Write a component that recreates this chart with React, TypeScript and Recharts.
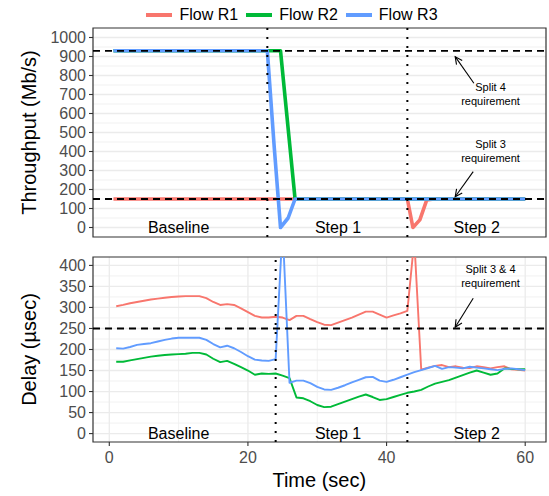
import React from 'react';
import {
  LineChart,
  Line,
  XAxis,
  YAxis,
  CartesianGrid,
  ReferenceLine,
  ReferenceArea,
  ReferenceDot,
} from 'recharts';

// ---------- data ----------
const seriesNames = ['Flow R1', 'Flow R2', 'Flow R3'];
const seriesColors = ['#F8766D', '#00BA38', '#619CFF'];

// Throughput (Mb/s) — breakpoints
const thrTimeR1 = [0.6, 43.0, 43.8, 44.8, 45.8, 46.8, 60];
const thrR1 = [150, 150, 0, 40, 145, 150, 150];
const thrTimeR2 = [0.6, 24.7, 26.8, 60];
const thrR2 = [930, 930, 150, 150];
const thrTimeR3 = [0.6, 22.8, 23.8, 24.7, 25.8, 26.8, 60];
const thrR3 = [930, 930, 420, 0, 50, 150, 150];

// Delay (µsec), one sample per second
const delayTime = [
  1, 2, 3, 4, 5, 6, 7, 8, 9, 10, 11, 12, 13, 14, 15, 16, 17, 18, 19, 20,
  21, 22, 23, 24, 25, 26, 27, 28, 29, 30, 31, 32, 33, 34, 35, 36, 37, 38, 39, 40,
  41, 42, 43, 44, 45, 46, 47, 48, 49, 50, 51, 52, 53, 54, 55, 56, 57, 58, 59, 60,
];
const delayR1 = [
  303, 306, 310, 313, 316, 319, 321, 323, 325, 326, 327, 327, 327, 322, 313, 306, 308, 306, 298, 289,
  280, 276, 276, 278, 276, 270, 280, 280, 272, 265, 259, 258, 264, 270, 276, 283, 290, 290, 283, 276,
  281, 286, 292, 460, 152, 157, 161, 163, 158, 160, 157, 156, 160, 158, 155, 158, 160, 153, 152, 150,
];
const delayR2 = [
  171, 171, 174, 177, 180, 183, 185, 187, 188, 189, 190, 192, 192, 188, 178, 170, 173, 166, 158, 150,
  140, 143, 142, 143, 138, 132, 86, 84, 77, 68, 63, 64, 70, 76, 82, 88, 93, 87, 80, 82,
  87, 92, 97, 100, 104, 112, 119, 123, 127, 133, 139, 145, 150, 145, 140, 143, 155, 154, 153, 153,
];
const delayR3 = [
  203, 202, 206, 211, 213, 215, 219, 223, 226, 228, 228, 228, 228, 223, 213, 205, 209, 203, 194, 184,
  176, 174, 173, 177, 490, 121, 126, 126, 120, 111, 105, 104, 109, 115, 122, 128, 134, 135, 126, 123,
  128, 134, 140, 146, 151, 156, 161, 154, 158, 157, 155, 159, 157, 155, 153, 151, 154, 155, 153, 151,
];

const xTicks = [0, 20, 40, 60];
const xMinor = [10, 30, 50];
const thrTicks = [0, 100, 200, 300, 400, 500, 600, 700, 800, 900, 1000];
const thrMinor = [50, 150, 250, 350, 450, 550, 650, 750, 850, 950];
const delayTicks = [0, 50, 100, 150, 200, 250, 300, 350, 400];
const delayMinor = [25, 75, 125, 175, 225, 275, 325, 375];

const xDomain = [-2.35, 63];
const thrDomain = [-50, 1050];
const delayDomain = [-20, 420];

const thrRequirements = [930, 150];
const delayRequirement = 250;
const thrPhaseLines = [22.8, 43];
const delayPhaseLines = [24, 43];
const phaseLabels = ['Baseline', 'Step 1', 'Step 2'];
const phaseLabelTimes = [10, 33, 53];

// ---------- helpers ----------
const FONT = '"Liberation Sans", Arial, Helvetica, sans-serif';

const toPoints = (ts: number[], vs: number[]) => ts.map((t, i) => ({ t, v: vs[i] }));

const thrData = [toPoints(thrTimeR1, thrR1), toPoints(thrTimeR2, thrR2), toPoints(thrTimeR3, thrR3)];
const delayData = [
  toPoints(delayTime, delayR1),
  toPoints(delayTime, delayR2),
  toPoints(delayTime, delayR3),
];

const arrowShape = (props: any) => {
  const { x1, y1, x2, y2 } = props;
  if ([x1, y1, x2, y2].some((v) => v === undefined || Number.isNaN(v))) return <g />;
  const ang = Math.atan2(y2 - y1, x2 - x1);
  const L = 8;
  const a = Math.PI / 7;
  const p1 = [x2 - L * Math.cos(ang - a), y2 - L * Math.sin(ang - a)];
  const p2 = [x2 - L * Math.cos(ang + a), y2 - L * Math.sin(ang + a)];
  return (
    <g>
      <line x1={x1} y1={y1} x2={x2} y2={y2} stroke="#000" strokeWidth={1.1} />
      <polyline
        points={`${p1[0]},${p1[1]} ${x2},${y2} ${p2[0]},${p2[1]}`}
        fill="none"
        stroke="#000"
        strokeWidth={1.1}
      />
    </g>
  );
};

const noteShape = (lines: string[]) => (props: any) => {
  const { cx, cy } = props;
  if (cx === undefined || cy === undefined) return <g />;
  const lh = 14;
  return (
    <text x={cx} y={cy} textAnchor="middle" fontSize={11} fill="#000" fontFamily={FONT}>
      {lines.map((l, i) => (
        <tspan key={i} x={cx} dy={i === 0 ? -((lines.length - 1) * lh) / 2 + 3.9 : lh}>
          {l}
        </tspan>
      ))}
    </text>
  );
};

const phaseShape = (label: string) => (props: any) => {
  const { cx, cy } = props;
  if (cx === undefined || cy === undefined) return <g />;
  return (
    <text x={cx} y={cy + 5.6} textAnchor="middle" fontSize={16} fill="#000" fontFamily={FONT}>
      {label}
    </text>
  );
};

const tickStyle = { fontSize: 16, fill: '#4D4D4D', fontFamily: FONT };

const gridLayers = (hMajor: number[], hMinor: number[]) => [
  <CartesianGrid
    key="minor"
    stroke="#EDEDED"
    strokeWidth={0.8}
    horizontalValues={hMinor}
    verticalValues={xMinor}
  />,
  <CartesianGrid
    key="major"
    stroke="#EBEBEB"
    strokeWidth={1.3}
    horizontalValues={hMajor}
    verticalValues={xTicks}
  />,
];

export default function App() {
  return (
    <div
      style={{
        position: 'absolute',
        left: 0,
        top: 0,
        width: 549,
        height: 496,
        background: '#fff',
        fontFamily: FONT,
        overflow: 'hidden',
      }}
    >
      {/* Legend */}
      <div
        style={{
          position: 'absolute',
          left: 0,
          top: 4,
          width: 584,
          height: 22,
          display: 'flex',
          justifyContent: 'center',
          alignItems: 'center',
          fontSize: 16,
          color: '#000',
        }}
      >
        {seriesNames.map((n, i) => (
          <div key={n} style={{ display: 'flex', alignItems: 'center', marginRight: i < 2 ? 8 : 0 }}>
            <div style={{ width: 26, height: 4, background: seriesColors[i], marginRight: 7 }} />
            <span>{n}</span>
          </div>
        ))}
      </div>

      {/* Top panel: throughput */}
      <div style={{ position: 'absolute', left: 0, top: 0 }}>
        <LineChart width={549} height={250} margin={{ top: 28, right: 3, left: 0, bottom: 0 }}>
          {gridLayers(thrTicks, thrMinor)}
          <XAxis
            type="number"
            dataKey="t"
            domain={xDomain}
            ticks={xTicks}
            interval={0}
            allowDataOverflow
            height={13}
            tick={false}
            tickSize={4}
            tickLine={{ stroke: '#333333', strokeWidth: 1.1 }}
            axisLine={false}
          />
          <YAxis
            type="number"
            domain={thrDomain}
            ticks={thrTicks}
            interval={0}
            allowDataOverflow
            width={93}
            tickSize={4}
            tickMargin={3}
            tick={tickStyle}
            tickLine={{ stroke: '#333333', strokeWidth: 1.1 }}
            axisLine={false}
          />
          {thrData.map((d, i) => (
            <Line
              key={seriesNames[i]}
              data={d}
              dataKey="v"
              name={seriesNames[i]}
              stroke={seriesColors[i]}
              strokeWidth={3.6}
              dot={false}
              activeDot={false}
              isAnimationActive={false}
              strokeLinejoin="round"
            />
          ))}
          {thrRequirements.map((r) => (
            <ReferenceLine key={r} y={r} stroke="#000" strokeWidth={1.8} strokeDasharray="7 5" />
          ))}
          {thrPhaseLines.map((p) => (
            <ReferenceLine key={p} x={p} stroke="#000" strokeWidth={2} strokeDasharray="2 7" />
          ))}
          <ReferenceLine
            segment={[
              { x: 52.6, y: 759 },
              { x: 49.9, y: 899 },
            ]}
            shape={arrowShape}
            ifOverflow="visible"
          />
          <ReferenceLine
            segment={[
              { x: 52.5, y: 294 },
              { x: 49.9, y: 162 },
            ]}
            shape={arrowShape}
            ifOverflow="visible"
          />
          <ReferenceDot x={55} y={700} r={0} ifOverflow="visible" shape={noteShape(['Split 4', 'requirement'])} />
          <ReferenceDot x={55} y={401} r={0} ifOverflow="visible" shape={noteShape(['Split 3', 'requirement'])} />
          {phaseLabels.map((l, i) => (
            <ReferenceDot key={l} x={phaseLabelTimes[i]} y={0} r={0} ifOverflow="visible" shape={phaseShape(l)} />
          ))}
          <ReferenceArea
            x1={xDomain[0]}
            x2={xDomain[1]}
            y1={thrDomain[0]}
            y2={thrDomain[1]}
            fill="none"
            fillOpacity={0}
            stroke="#333333"
            strokeWidth={1.2}
            ifOverflow="visible"
          />
        </LineChart>
      </div>

      {/* Bottom panel: delay */}
      <div style={{ position: 'absolute', left: 0, top: 245 }}>
        <LineChart width={549} height={251} margin={{ top: 12, right: 3, left: 0, bottom: 0 }}>
          {gridLayers(delayTicks, delayMinor)}
          <XAxis
            type="number"
            dataKey="t"
            domain={xDomain}
            ticks={xTicks}
            interval={0}
            allowDataOverflow
            height={54}
            tickSize={4}
            tickMargin={6}
            tick={tickStyle}
            tickLine={{ stroke: '#333333', strokeWidth: 1.1 }}
            axisLine={false}
          />
          <YAxis
            type="number"
            domain={delayDomain}
            ticks={delayTicks}
            interval={0}
            allowDataOverflow
            width={93}
            tickSize={4}
            tickMargin={3}
            tick={tickStyle}
            tickLine={{ stroke: '#333333', strokeWidth: 1.1 }}
            axisLine={false}
          />
          {delayData.map((d, i) => (
            <Line
              key={seriesNames[i]}
              data={d}
              dataKey="v"
              name={seriesNames[i]}
              stroke={seriesColors[i]}
              strokeWidth={1.9}
              dot={false}
              activeDot={false}
              isAnimationActive={false}
              strokeLinejoin="round"
            />
          ))}
          <ReferenceLine y={delayRequirement} stroke="#000" strokeWidth={1.8} strokeDasharray="7 5" />
          {delayPhaseLines.map((p) => (
            <ReferenceLine key={p} x={p} stroke="#000" strokeWidth={2} strokeDasharray="2 7" />
          ))}
          <ReferenceLine
            segment={[
              { x: 52.5, y: 322 },
              { x: 49.9, y: 253 },
            ]}
            shape={arrowShape}
            ifOverflow="visible"
          />
          <ReferenceDot x={55} y={374} r={0} ifOverflow="visible" shape={noteShape(['Split 3 & 4', 'requirement'])} />
          {phaseLabels.map((l, i) => (
            <ReferenceDot key={l} x={phaseLabelTimes[i]} y={0} r={0} ifOverflow="visible" shape={phaseShape(l)} />
          ))}
          <ReferenceArea
            x1={xDomain[0]}
            x2={xDomain[1]}
            y1={delayDomain[0]}
            y2={delayDomain[1]}
            fill="none"
            fillOpacity={0}
            stroke="#333333"
            strokeWidth={1.2}
            ifOverflow="visible"
          />
        </LineChart>
      </div>

      {/* Axis titles */}
      <svg
        width={549}
        height={496}
        style={{ position: 'absolute', left: 0, top: 0, pointerEvents: 'none' }}
      >
        <text
          transform="translate(29,132.5) rotate(-90)"
          textAnchor="middle"
          dominantBaseline="central"
          fontSize={20}
          fill="#000"
          fontFamily={FONT}
        >
          Throughput (Mb/s)
        </text>
        <text
          transform="translate(29,349.5) rotate(-90)"
          textAnchor="middle"
          dominantBaseline="central"
          fontSize={20}
          fill="#000"
          fontFamily={FONT}
        >
          Delay (µsec)
        </text>
        <text x={319.3} y={480} textAnchor="middle" dominantBaseline="central" fontSize={20} fill="#000" fontFamily={FONT}>
          Time (sec)
        </text>
      </svg>
    </div>
  );
}
